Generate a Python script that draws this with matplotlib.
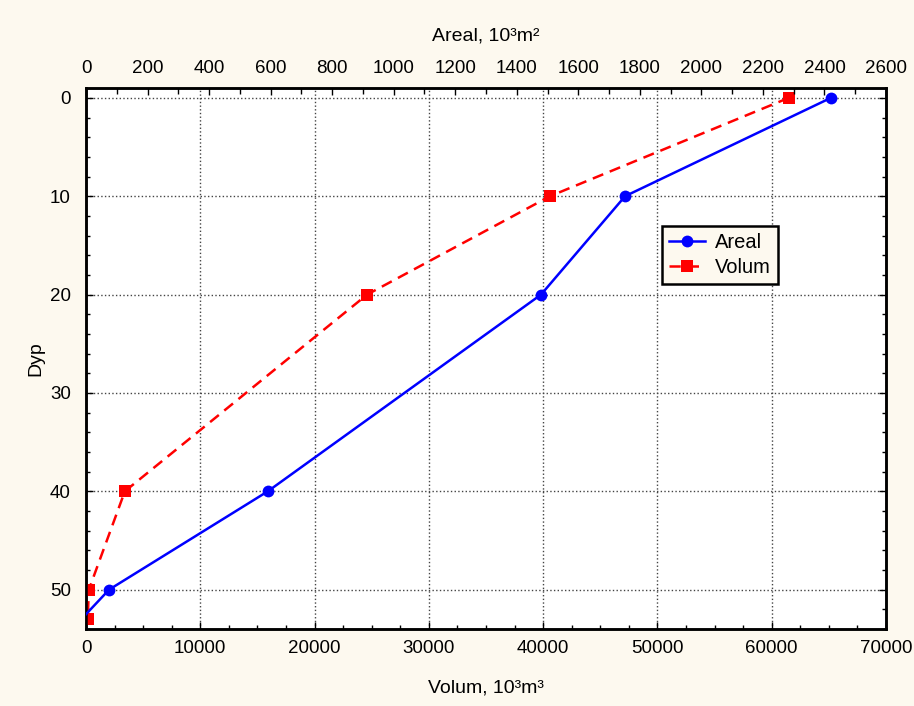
import matplotlib
matplotlib.use("Agg")
import matplotlib.pyplot as plt
from matplotlib.ticker import MultipleLocator

# Data
depth_areal = [0, 10, 20, 40, 50, 52.5]
areal = [2421, 1752, 1479, 591, 75, 0]
depth_volum = [0, 10, 20, 40, 50, 53]
volum = [61500, 40600, 24600, 3400, 250, 150]

bg = "#FDF9EF"
plt.rcParams['font.family'] = ['Liberation Sans', 'DejaVu Sans']

fig = plt.figure(figsize=(9.14, 7.06), dpi=100, facecolor=bg)
ax = fig.add_axes([86/914, 1-629/706, 800/914, 541/706])
ax.set_facecolor("white")

ax.set_xlim(0, 70000)
ax.set_ylim(54, -1)
ax.xaxis.set_major_locator(MultipleLocator(10000))
ax.xaxis.set_minor_locator(MultipleLocator(2500))
ax.yaxis.set_major_locator(MultipleLocator(10))
ax.yaxis.set_minor_locator(MultipleLocator(2))
ax.grid(True, which='major', linestyle=':', color='#444444', linewidth=1.0)

lv, = ax.plot(volum, depth_volum, color='#FF0000', linestyle=(0, (4.5, 2.8)), linewidth=1.8,
              marker='s', markersize=8.5, markeredgewidth=0, label='Volum', zorder=3)

ax2 = ax.twiny()
ax2.set_xlim(0, 2600)
ax2.xaxis.set_major_locator(MultipleLocator(200))
ax2.xaxis.set_minor_locator(MultipleLocator(100))
la, = ax2.plot(areal, depth_areal, color='#0000FF', linestyle='-', linewidth=1.8,
               marker='o', markersize=8.5, markeredgewidth=0, markevery=[0, 1, 2, 3, 4],
               label='Areal', zorder=3)
ax2.set_ylim(54, -1)

for a in (ax, ax2):
    for s in a.spines.values():
        s.set_linewidth(1.8)
        s.set_color('black')

ax.tick_params(which='both', direction='in', right=True, top=False, labelsize=13.5,
               width=1.0)
ax.tick_params(axis='x', pad=8)
ax.tick_params(axis='y', pad=11)
ax.tick_params(which='major', length=5)
ax.tick_params(which='minor', length=3)
ax2.tick_params(which='both', direction='in', labelsize=13.5, pad=8, width=1.0)
ax2.tick_params(which='major', length=5)
ax2.tick_params(which='minor', length=4)

ax.set_xlabel('Volum, 10³m³', fontsize=14, labelpad=16)
ax2.set_xlabel('Areal, 10³m²', fontsize=14, labelpad=14)
ax.set_ylabel('Dyp', fontsize=14, labelpad=4)

leg = ax2.legend(handles=[la, lv], loc='upper left', bbox_to_anchor=(0.72, 0.745),
                 borderaxespad=0, fancybox=False, facecolor=bg, edgecolor='black',
                 framealpha=1, fontsize=14.5, handlelength=1.8, handletextpad=0.5,
                 borderpad=0.35, labelspacing=0.3)
leg.get_frame().set_linewidth(1.8)

fig.savefig('out.png', dpi=100, facecolor=bg)
